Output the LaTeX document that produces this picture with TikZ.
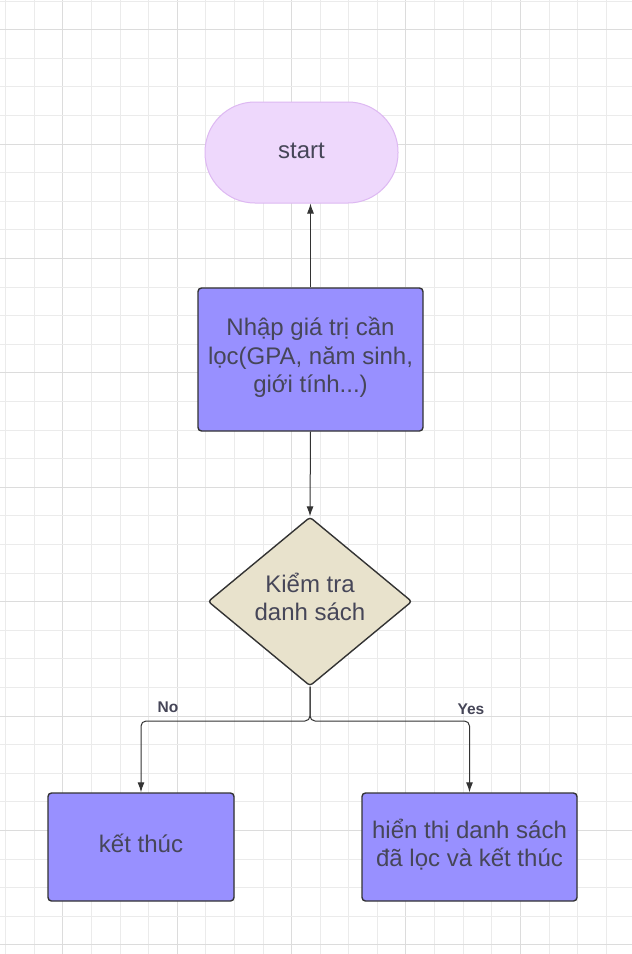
\documentclass[tikz,border=0pt]{standalone}
\usepackage{fontspec}
\setmainfont{Liberation Sans}
\usetikzlibrary{shapes.geometric,arrows.meta}
\definecolor{gridminor}{HTML}{EBEBEB}
\definecolor{gridmajor}{HTML}{DCDCDC}
\definecolor{startfill}{HTML}{EED8FC}
\definecolor{startdraw}{HTML}{DDB8F2}
\definecolor{procfill}{HTML}{9890FF}
\definecolor{decfill}{HTML}{E8E2CC}
\definecolor{edge}{HTML}{333333}
\definecolor{txt}{HTML}{464658}
\tikzset{
  gridline/.style={gridminor, line width=0.8pt},
  gridbold/.style={gridmajor, line width=0.9pt},
  bigtext/.style={text=txt, font=\fontsize{24}{28.3}\selectfont, align=center},
  startbox/.style={bigtext, draw=startdraw, fill=startfill, line width=1pt, rectangle, rounded corners=50pt, minimum width=193pt, minimum height=101pt},
  procbox/.style={bigtext, draw=edge, fill=procfill, line width=1.4pt, rectangle, rounded corners=3.5pt, inner sep=2pt},
  decision/.style={bigtext, draw=edge, fill=decfill, line width=1.4pt, diamond, rounded corners=3pt, minimum width=204pt, minimum height=169pt, inner sep=0pt},
  conn/.style={draw=edge, line width=1pt, -{Latex[length=10pt,width=7pt]}},
  lbl/.style={text=txt, font=\bfseries\fontsize{15.5}{18}\selectfont, inner sep=0pt}
}
\begin{document}
\begin{tikzpicture}[x=1pt,y=-1pt]
\fill[white] (0,0) rectangle (632,954);
\useasboundingbox (0,0) rectangle (632,954);
\foreach \i in {0,...,21} {
  \pgfmathtruncatemacro{\m}{mod(\i,4)}
  \ifnum\m=2
    \draw[gridbold] ({5.5+28.6*\i},0) -- ({5.5+28.6*\i},954);
  \else
    \draw[gridline] ({5.5+28.6*\i},0) -- ({5.5+28.6*\i},954);
  \fi
}
\foreach \j in {0,...,33} {
  \pgfmathtruncatemacro{\m}{mod(\j,4)}
  \ifnum\m=1
    \draw[gridbold] (0,{1+28.6*\j}) -- (632,{1+28.6*\j});
  \else
    \draw[gridline] (0,{1+28.6*\j}) -- (632,{1+28.6*\j});
  \fi
}

\node[startbox, text depth=4pt] (start) at (301.5,152.5) {start};
\node[procbox, minimum width=225pt, minimum height=143pt, text depth=9pt] (input) at (310.5,359.5) {Nhập giá trị cần\\lọc(GPA, năm sinh,\\giới tính...)};
\node[decision, text depth=10pt] (check) at (310,601.5) {Kiểm tra\\danh sách};
\node[procbox, minimum width=186pt, minimum height=108pt, text depth=8pt] (end) at (141,847) {kết thúc};
\node[procbox, minimum width=215pt, minimum height=108pt, text depth=8pt] (show) at (469.5,847) {hiển thị danh sách\\đã lọc và kết thúc};

\draw[conn] (input.north) -- (start.south -| input.north);
\draw[conn] (input.south) -- (check.north);
\coordinate (split) at (310,721);
\draw[conn, rounded corners=5pt] (check.south) -- (split) -| (end.north);
\draw[conn, rounded corners=5pt] (check.south) -- (split) -| (show.north);

\node[lbl] (no) at (168,707.5) {No};
\node[lbl] (yes) at (471,709) {Yes};
\end{tikzpicture}
\end{document}
